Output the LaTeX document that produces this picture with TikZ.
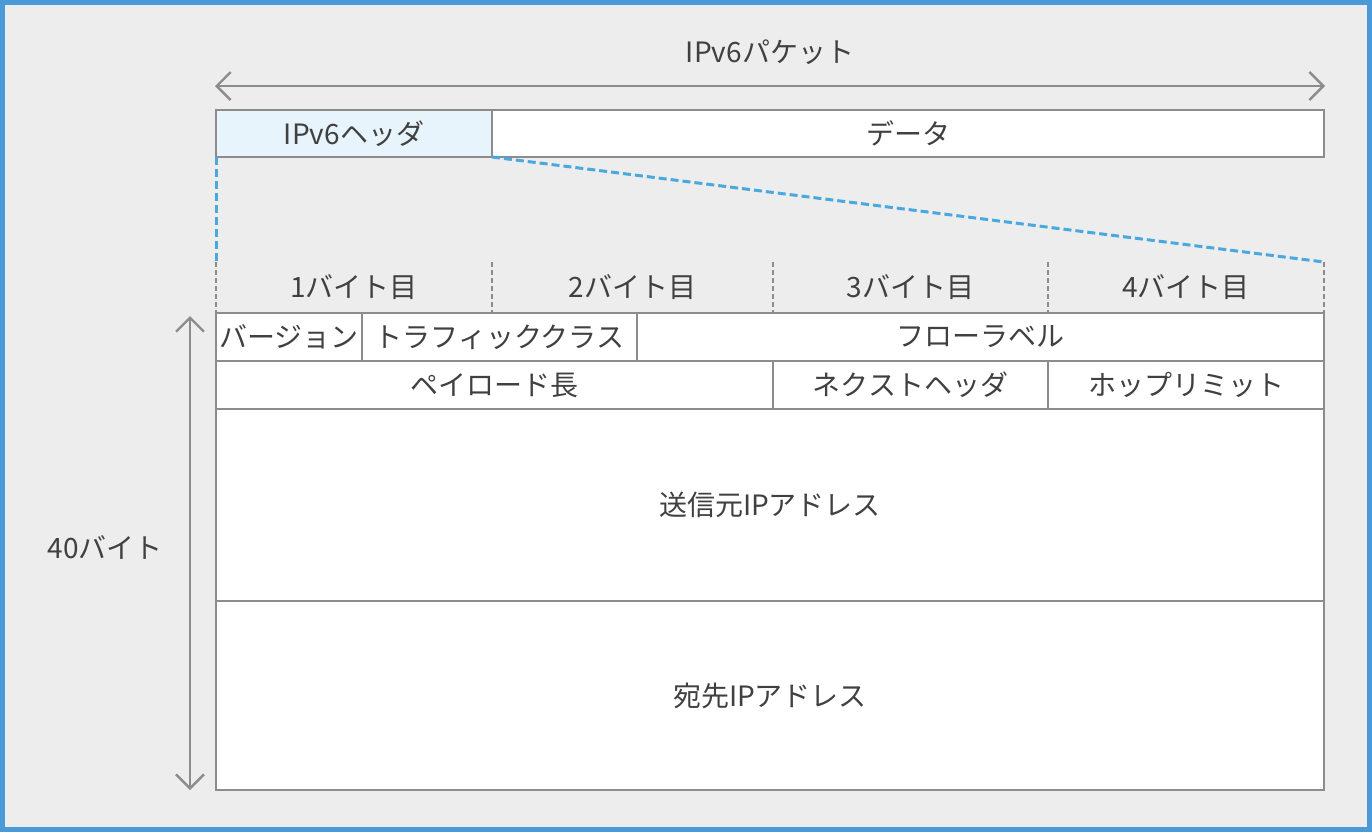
\documentclass[tikz,border=0pt]{standalone}
\usepackage{fontspec}
\newfontfamily\jpfont{Noto Sans CJK JP}
\usetikzlibrary{arrows.meta}
\definecolor{bgray}{HTML}{EDEDED}
\definecolor{frameblue}{HTML}{4A9AD8}
\definecolor{dashblue}{HTML}{4AA8DF}
\definecolor{linegray}{HTML}{8C8C8C}
\definecolor{txtgray}{HTML}{404040}
\definecolor{headblue}{HTML}{E8F4FB}
\tikzset{
  lbl/.style={font=\jpfont\fontsize{14pt}{16pt}\selectfont, text=txtgray, inner sep=0pt},
  cell/.style={lbl, draw=linegray, line width=1.2pt, fill=white, inner sep=0pt, outer sep=0pt},
  dimarrow/.style={draw=linegray, line width=1.2pt, {Straight Barb[length=7pt,width=14pt]}-{Straight Barb[length=7pt,width=14pt]}},
  bluedash/.style={draw=dashblue, line width=1.5pt, dash pattern=on 4pt off 2pt},
  graydash/.style={draw=linegray, line width=1pt, dash pattern=on 2.5pt off 1.5pt}
}
\begin{document}
\begin{tikzpicture}[x=0.5pt,y=-0.5pt]
\useasboundingbox (0,0) rectangle (1372,832);
\fill[bgray] (0,0) rectangle (1372,832);
\draw[frameblue, line width=2.5pt] (2.5,2.5) rectangle (1369.5,829.5);

% packet arrow
\coordinate (pl) at (215,86);
\coordinate (pr) at (1325,86);
\draw[dimarrow] (pl) -- (pr);
\node[lbl] (pkt) at (770,52) {IPv6パケット};

% header / data
\node[cell, fill=headblue, minimum width=138pt, minimum height=23.5pt] (hdr) at (354,133.5) {IPv6ヘッダ};
\node[cell, minimum width=416pt, minimum height=23.5pt] (dat) at (908,133.5) {データ};

% zoom lines
\coordinate (zl) at (216,262);
\coordinate (zr) at (1324,262);
\draw[bluedash] (hdr.south west) -- (zl);
\draw[bluedash] (hdr.south east) -- (zr);

% byte columns
\foreach \x/\n in {216/a,492/b,773/c,1048/d,1324/e}{
  \coordinate (t\n) at (\x,262);
  \coordinate (b\n) at (\x,313);
  \draw[graydash] (t\n) -- (b\n);
}
\node[lbl] (by1) at (354,287) {1バイト目};
\node[lbl] (by2) at (632.5,287) {2バイト目};
\node[lbl] (by3) at (910.5,287) {3バイト目};
\node[lbl] (by4) at (1186,287) {4バイト目};

% table
\node[cell, minimum width=73pt, minimum height=24pt] (ver) at (289,337) {バージョン};
\node[cell, minimum width=137.5pt, minimum height=24pt] (tc) at (499.5,337) {トラフィッククラス};
\node[cell, minimum width=343.5pt, minimum height=24pt] (fl) at (980.5,337) {フローラベル};
\node[cell, minimum width=278.5pt, minimum height=24pt] (pl2) at (494.5,385) {ペイロード長};
\node[cell, minimum width=137.5pt, minimum height=24pt] (nh) at (910.5,385) {ネクストヘッダ};
\node[cell, minimum width=138pt, minimum height=24pt] (hl) at (1186,385) {ホップリミット};
\node[cell, minimum width=554pt, minimum height=96pt] (src) at (770,505) {送信元IPアドレス};
\node[cell, minimum width=554pt, minimum height=94.5pt] (dst) at (770,695.5) {宛先IPアドレス};

% 40 bytes
\coordinate (vt) at (190,316);
\coordinate (vb) at (190,790);
\draw[dimarrow] (vt) -- (vb);
\node[lbl] (forty) at (105,547) {40バイト};
\end{tikzpicture}
\end{document}
